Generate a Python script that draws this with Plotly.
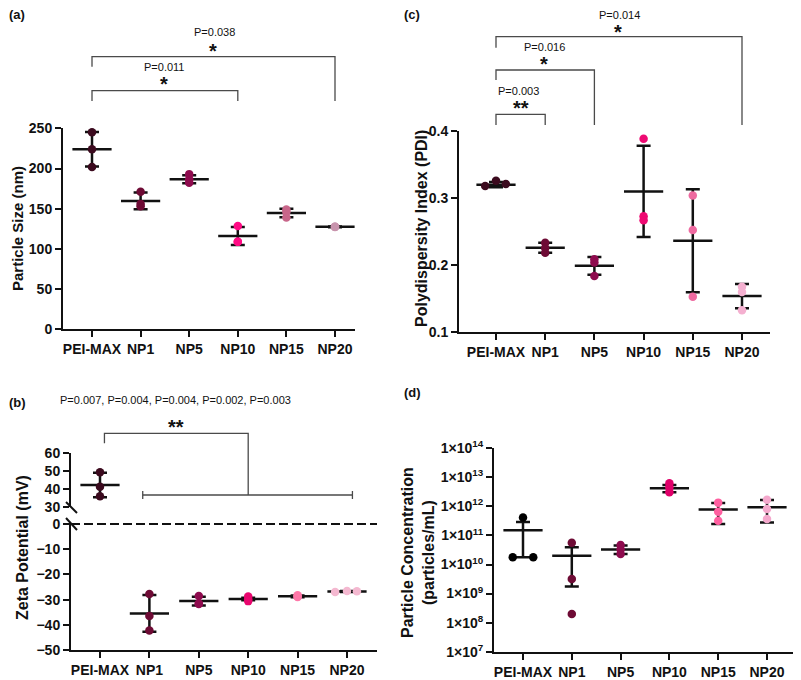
import plotly.graph_objects as go

# the page body keeps an 8px margin, so the figure is 8px smaller than the window
# and reference pixel positions are shifted by OFF
W, H = 793, 672
OFF = 8
FONT = "Liberation Sans"
INK = "#111111"
GRAY = "#4a4a4a"

groups = ["PEI-MAX", "NP1", "NP5", "NP10", "NP15", "NP20"]

# (a) particle size, nm
size_pts = [[245, 224, 202], [171, 156, 153], [193, 186.6, 182.3],
            [128.5, 109, 109], [149, 146, 139], [127.4, 127.2, 127.6]]
size_mean = [224, 159.6, 186.6, 116, 144.7, 127.4]
size_sd = [21.5, 10.4, 5.0, 11.2, 5.3, 0.4]

# (b) zeta potential, mV
zeta_pts = [[49.3, 41.2, 36.0], [-27.8, -36.5, -42.3], [-28.6, -31.7, -31.5],
            [-28.8, -29.9, -30.6], [-28.3, -28.8, -29.0], [-27.0, -26.6, -26.7]]
zeta_mean = [42.2, -35.5, -30.6, -29.8, -28.7, -26.8]
zeta_sd = [6.8, 7.3, 1.75, 0.5, 0.35, 0.2]

# (c) polydispersity index
pdi_pts = [[0.318, 0.326, 0.321], [0.2335, 0.2256, 0.2186], [0.209, 0.204, 0.184],
           [0.3885, 0.273, 0.267], [0.304, 0.2525, 0.153], [0.168, 0.160, 0.133]]
pdi_mean = [0.320, 0.226, 0.199, 0.310, 0.2365, 0.154]
pdi_sd = [0.004, 0.0074, 0.0132, 0.068, 0.0767, 0.018]

# (d) particle concentration, particles/mL
conc_pts = [[1.78e10, 4.17e11, 1.78e10], [5.6e10, 3.2e9, 2.0e8], [4.7e10, 3.3e10, 2.3e10],
            [6.3e12, 4.6e12, 3.1e12], [1.35e12, 6.5e11, 3.2e11], [1.7e12, 8.1e11, 3.7e11]]
conc_mean = [1.5e11, 2.0e10, 3.3e10, 4.2e12, 7.8e11, 9.3e11]
conc_hi = [2.9e11, 3.9e10, 4.5e10, 5.5e12, 1.3e12, 1.66e12]
conc_lo = [1.78e10, 1.74e9, 2.3e10, 3.1e12, 2.5e11, 2.8e11]

colors_a = ["#3b0a1e", "#6e0b35", "#8e0b4e", "#ff0a84", "#c8668a", "#c894ad"]
colors_b = ["#3b0a1e", "#6e0b35", "#8e0b4e", "#e8066e", "#ff77a8", "#f4b8d0"]
colors_c = ["#3b0a1e", "#6e0b35", "#8e0b4e", "#ee0a72", "#ee6aa0", "#f4b0d0"]
colors_d = ["#000000", "#6e0b35", "#8e0b4e", "#e0006a", "#ff5fa0", "#f4a8cc"]

p_a = ["P=0.011", "P=0.038"]
stars_a = ["*", "*"]
p_c = ["P=0.003", "P=0.016", "P=0.014"]
stars_c = ["**", "*", "*"]
p_b = "P=0.007, P=0.004, P=0.004, P=0.002, P=0.003"
stars_b = "**"

conc_ticks = [1e7, 1e8, 1e9, 1e10, 1e11, 1e12, 1e13, 1e14]

# pixel layout of each panel (axis ends, first category, category step)
PANEL = {
    "a": dict(x0=63, x1=355, c0=92, dx=48.6),
    "c": dict(x0=459, x1=770, c0=496, dx=49.2),
    "b": dict(x0=71, x1=377, c0=100, dx=49.4),
    "d": dict(x0=494, x1=797, c0=523, dx=48.8),
}
# horizontal spread of overlapping points (category units)
JITTER = {("b", 5): [-0.24, 0, 0.2], ("c", 0): [-0.22, 0, 0.2], ("d", 0): [-0.21, 0, 0.21]}


def fx(px):
    return (px - OFF) / W


def fy(py):
    return 1 - (py - OFF) / H


def cat_px(p, i):
    g = PANEL[p]
    return g["c0"] + i * g["dx"]


fig = go.Figure()


def add_panel(p, xa, ya, idx, pts, mean, hi, lo, colors):
    # mean line + error bars
    fig.add_trace(go.Scatter(
        x=idx, y=[mean[i] for i in idx], xaxis=xa, yaxis=ya, mode="markers",
        marker=dict(symbol="line-ew", size=28, color=INK, line=dict(width=2.5, color=INK)),
        error_y=dict(type="data", symmetric=False,
                     array=[hi[i] - mean[i] for i in idx],
                     arrayminus=[mean[i] - lo[i] for i in idx],
                     width=7, thickness=2.5, color=INK),
        cliponaxis=False, showlegend=False, hoverinfo="skip"))
    for i in idx:
        off = JITTER.get((p, i), [0] * len(pts[i]))
        fig.add_trace(go.Scatter(
            x=[i + o for o in off], y=pts[i], xaxis=xa, yaxis=ya, mode="markers",
            marker=dict(size=8.5, color=colors[i]),
            cliponaxis=False, showlegend=False, hoverinfo="skip"))


n = len(groups)
all_idx = list(range(n))
add_panel("a", "x", "y", all_idx, size_pts, size_mean,
          [m + s for m, s in zip(size_mean, size_sd)], [m - s for m, s in zip(size_mean, size_sd)], colors_a)
add_panel("c", "x2", "y2", all_idx, pdi_pts, pdi_mean,
          [m + s for m, s in zip(pdi_mean, pdi_sd)], [m - s for m, s in zip(pdi_mean, pdi_sd)], colors_c)
zhi = [m + s for m, s in zip(zeta_mean, zeta_sd)]
zlo = [m - s for m, s in zip(zeta_mean, zeta_sd)]
add_panel("b", "x3", "y4", [i for i in all_idx if zeta_mean[i] > 0], zeta_pts, zeta_mean, zhi, zlo, colors_b)
add_panel("b", "x3", "y3", [i for i in all_idx if zeta_mean[i] < 0], zeta_pts, zeta_mean, zhi, zlo, colors_b)
add_panel("d", "x5", "y5", all_idx, conc_pts, conc_mean, conc_hi, conc_lo, colors_d)

tickfont = dict(family=FONT, size=14, color=INK, weight="bold")
AX = dict(showline=True, linewidth=2, linecolor=INK, ticks="outside", ticklen=6, tickwidth=2,
          tickcolor=INK, showgrid=False, zeroline=False, tickfont=tickfont, fixedrange=True)


def xaxis(p, anchor):
    g = PANEL[p]
    return dict(AX, domain=[fx(g["x0"]), min(1, fx(g["x1"]))],
                range=[(g["x0"] - g["c0"]) / g["dx"], (g["x1"] - g["c0"]) / g["dx"]],
                tickvals=all_idx, ticktext=groups, anchor=anchor)


fig.update_layout(
    width=W, height=H, margin=dict(l=0, r=0, t=0, b=0, autoexpand=False),
    paper_bgcolor="white", plot_bgcolor="white", showlegend=False,
    font=dict(family=FONT, color=INK),
    xaxis=xaxis("a", "y"),
    yaxis=dict(AX, domain=[fy(329.3), fy(128.3)], range=[0, 250], tickvals=[0, 50, 100, 150, 200, 250], anchor="x"),
    xaxis2=xaxis("c", "y2"),
    yaxis2=dict(AX, domain=[fy(332.3), fy(131)], range=[0.1, 0.4], tickvals=[0.1, 0.2, 0.3, 0.4], anchor="x2"),
    xaxis3=xaxis("b", "y3"),
    yaxis3=dict(AX, domain=[fy(650), fy(522)], range=[-50, 0.8], tickvals=[-50, -40, -30, -20, -10, 0], anchor="x3"),
    yaxis4=dict(AX, domain=[fy(507), fy(453)], range=[30, 60], tickvals=[30, 40, 50, 60], anchor="x3"),
    xaxis5=xaxis("d", "y5"),
    yaxis5=dict(AX, domain=[fy(651.7), fy(448.3)], type="log", range=[7, 14], tickvals=conc_ticks,
                ticktext=["1×10<sup>%d</sup>" % k for k in range(7, 15)], anchor="x5"),
)

shapes = []


def path(pts, width=1.3, color=GRAY):
    d = "M " + " L ".join("%.5f %.5f" % (fx(x), fy(y)) for x, y in pts)
    shapes.append(dict(type="path", path=d, xref="paper", yref="paper",
                       line=dict(width=width, color=color)))


# zero line and axis break in (b)
shapes.append(dict(type="line", xref="x3", yref="y3", x0=(PANEL["b"]["x0"] - PANEL["b"]["c0"]) / PANEL["b"]["dx"],
                   x1=(PANEL["b"]["x1"] - PANEL["b"]["c0"]) / PANEL["b"]["dx"], y0=0, y1=0,
                   line=dict(width=2, color=INK, dash="9px,4px")))
path([(66, 502), (77, 513)], width=2, color=INK)
path([(66, 518), (77, 530)], width=2, color=INK)

# brackets (a)
path([(cat_px("a", 0), 101), (cat_px("a", 0), 90.7), (cat_px("a", 3), 90.7), (cat_px("a", 3), 101)])
path([(cat_px("a", 0), 66.7), (cat_px("a", 0), 56.7), (cat_px("a", 5), 56.7), (cat_px("a", 5), 101)])
# brackets (c)
path([(cat_px("c", 0), 125), (cat_px("c", 0), 114.3), (cat_px("c", 1), 114.3), (cat_px("c", 1), 125)])
path([(cat_px("c", 0), 80), (cat_px("c", 0), 70), (cat_px("c", 2), 70), (cat_px("c", 2), 125)])
path([(cat_px("c", 0), 47.7), (cat_px("c", 0), 36.7), (cat_px("c", 5), 36.7), (cat_px("c", 5), 125)])
# bracket (b)
bl, br = cat_px("b", 0.865), cat_px("b", 5.11)
path([(bl, 495), (br, 495)])
path([(bl, 491), (bl, 499)])
path([(br, 491), (br, 499)])
path([(cat_px("b", 0.09), 443.3), (cat_px("b", 0.09), 433.3), (cat_px("b", 3), 433.3), (cat_px("b", 3), 495)])

fig.update_layout(shapes=shapes)

ann = []


def text(x, y, s, size=11, bold=False, angle=0, xanchor="center"):
    ann.append(dict(x=fx(x), y=fy(y), xref="paper", yref="paper", text=s, showarrow=False,
                    xanchor=xanchor, yanchor="middle", textangle=angle, borderpad=0,
                    font=dict(family=FONT, size=size, color=INK, weight="bold" if bold else "normal")))


for lab, x, y in [("(a)", 17, 15), ("(c)", 412, 15), ("(b)", 17, 402), ("(d)", 412, 392)]:
    text(x, y, lab, size=13, bold=True)

text(17, 229, "Particle Size (nm)", size=15, bold=True, angle=-90)
text(421, 229, "Polydispersity Index (PDI)", size=16, bold=True, angle=-90)
text(22, 548, "Zeta Potential (mV)", size=16, bold=True, angle=-90)
text(418, 553, "Particle Concentration<br>(particles/mL)", size=16, bold=True, angle=-90)

for s, st, (x, y, sx, sy) in zip(p_a, stars_a, [(164, 66.7, 164, 80), (215, 31.7, 213, 46.7)]):
    text(x, y, s)
    text(sx, sy + 4, st, size=20, bold=True)
for s, st, (x, y, sx, sy) in zip(p_c, stars_c, [(519, 90.7, 521, 104.3), (544, 46.7, 544.3, 60), (619, 15, 618.3, 27.5)]):
    text(x, y, s)
    text(sx, sy + 4, st, size=20, bold=True)
text(175, 400, p_b)
text(176, 422.7 + 4, stars_b, size=20, bold=True)

fig.update_layout(annotations=ann)

fig.write_html("out.html")
